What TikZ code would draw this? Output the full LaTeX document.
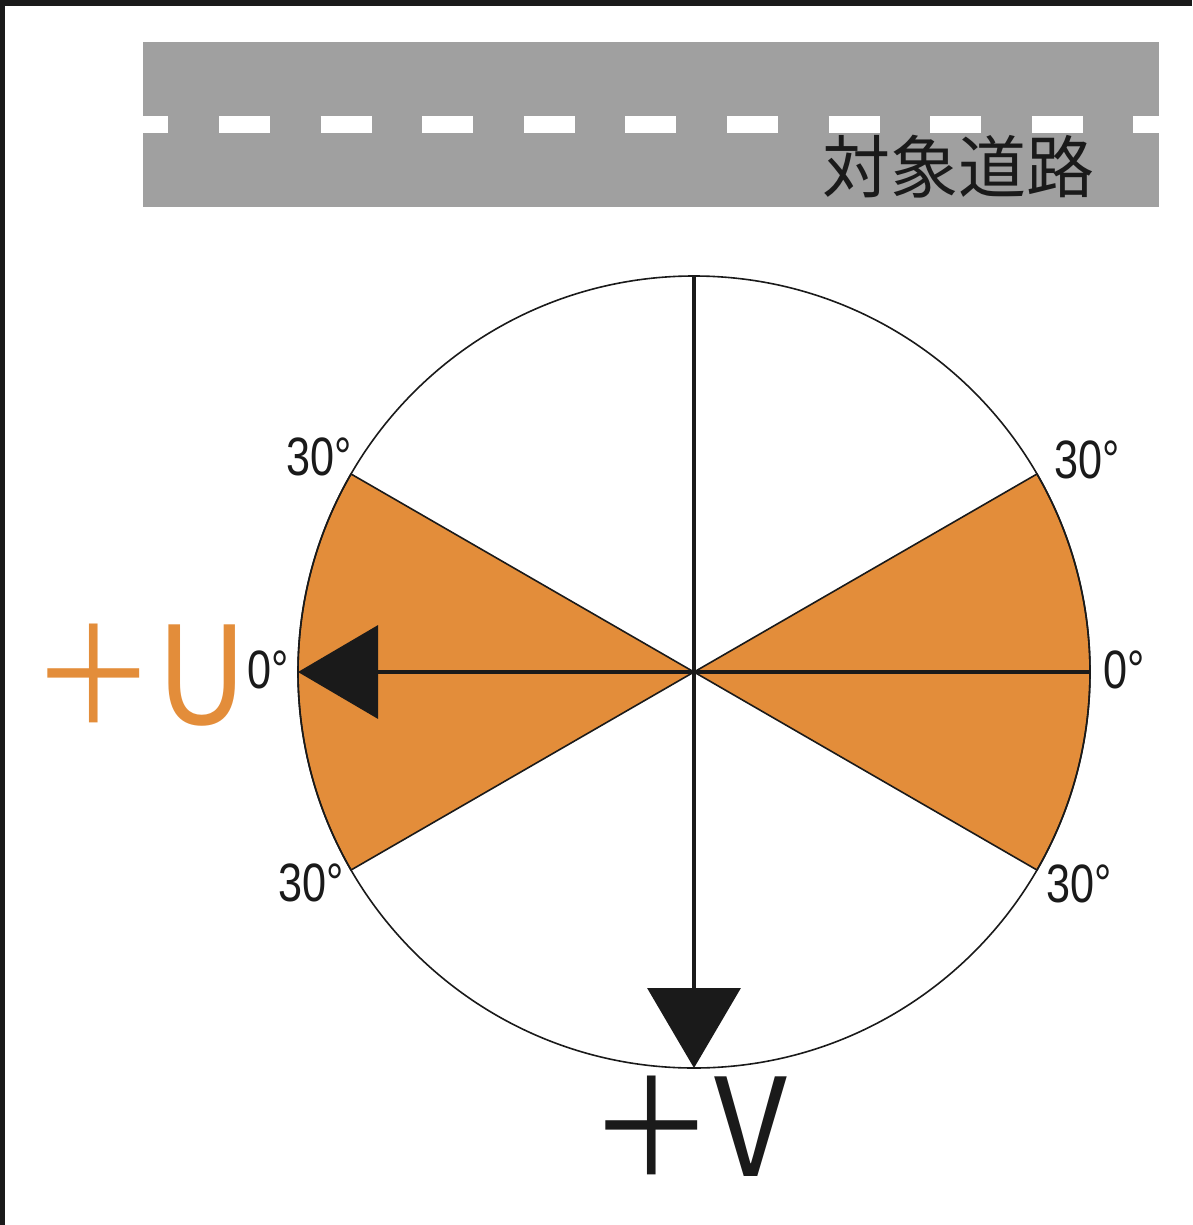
\documentclass[tikz,border=0pt]{standalone}
\usepackage{fontspec}
\setmainfont{Liberation Sans}[FakeStretch=0.8]
\newfontfamily\cjk{Noto Sans CJK JP}
\usetikzlibrary{arrows.meta}
\definecolor{dark}{HTML}{1A1A1A}
\definecolor{sectororange}{HTML}{E38D3A}
\definecolor{roadgray}{HTML}{A0A0A0}
\tikzset{
  axisline/.style={draw=dark, line width=3.5pt, -{Triangle[length=80pt,width=93pt]}},
  plainaxis/.style={draw=dark, line width=3.5pt},
  sector/.style={fill=sectororange, draw=dark, line width=1.6pt, line join=miter},
  anglelabel/.style={inner sep=0pt, text=dark, font=\fontsize{54}{54}\selectfont},
  biglabel/.style={inner sep=0pt, xscale=0.93, transform shape, font=\cjk\fontsize{136}{136}\selectfont},
  roadlabel/.style={inner sep=0pt, text=dark, font=\cjk\fontsize{68}{68}\selectfont},
}
\begin{document}
\begin{tikzpicture}[x=1pt,y=-1pt]
\useasboundingbox (0,0) rectangle (1192,1225);
% frame edges
\fill[dark] (0,0) rectangle (1192,6);
\fill[dark] (0,0) rectangle (5,1225);
% road
\fill[roadgray] (143,42) rectangle (1159,207);
\draw[white, line width=17pt, dash pattern=on 51pt off 50.6pt, dash phase=25.6pt] (143,124.5) -- (1159,124.5);
\node[roadlabel] (road) at (958,167) {対象道路};
% circle
\coordinate (O) at (694,672);
\fill[white] (O) circle (396);
\path[sector] (O) -- ++(150:396) arc[start angle=150, end angle=210, radius=396] -- cycle;
\path[sector] (O) -- ++(-30:396) arc[start angle=-30, end angle=30, radius=396] -- cycle;
\draw[dark, line width=1.6pt] (O) circle (396);
\coordinate (T) at (694,276);
\coordinate (B) at (694,1068);
\coordinate (L) at (298,672);
\coordinate (R) at (1090,672);
\draw[plainaxis] (O) -- (R);
\draw[axisline] (O) -- (L);
\draw[axisline] (T) -- (B);
% angle labels
\node[anglelabel] (a1) at (319,457) {30°};
\node[anglelabel] (a2) at (1087,460) {30°};
\node[anglelabel] (a3) at (311,883) {30°};
\node[anglelabel] (a4) at (1079,884) {30°};
\node[anglelabel] (a5) at (268,670) {0°};
\node[anglelabel] (a6) at (1124,670) {0°};
% axis labels
\node[biglabel, text=sectororange] (U) at (139,675) {＋U};
\node[biglabel, text=dark] (V) at (688,1126) {＋V};
\end{tikzpicture}
\end{document}
